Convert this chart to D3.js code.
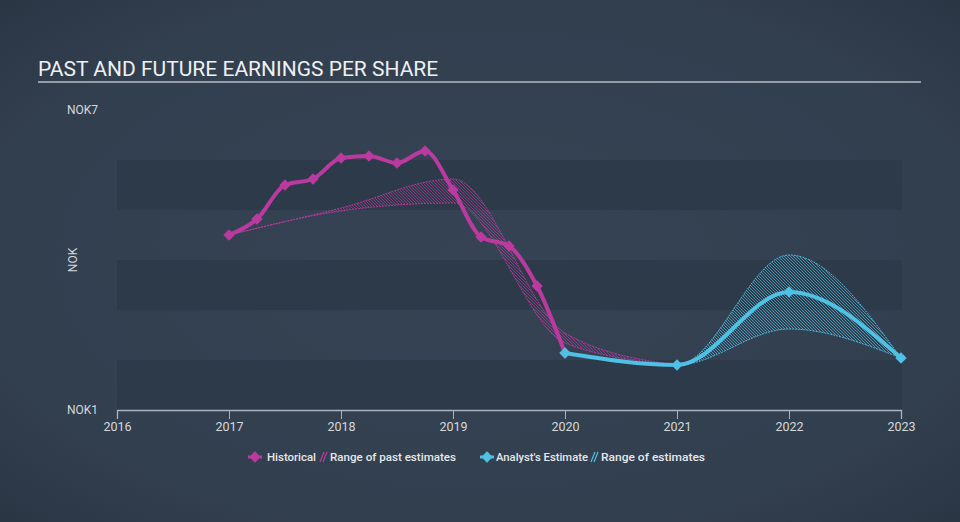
<!DOCTYPE html>
<html>
<head>
<meta charset="utf-8">
<script src="https://cdn.jsdelivr.net/npm/d3@7/dist/d3.min.js"></script>
<style>
  html, body { margin: 0; padding: 0; background: #323f4f; }
  svg { display: block; }
  text { font-family: Roboto, "Noto Sans", sans-serif; }
</style>
</head>
<body>
<svg id="chart" width="960" height="522"></svg>
<script>
// ---- data ----
const histYears = [2017, 2017.25, 2017.5, 2017.75, 2018, 2018.25, 2018.5, 2018.75, 2019, 2019.25, 2019.5, 2019.75, 2020];
const histEPS   = [4.5, 4.82, 5.5, 5.62, 6.04, 6.08, 5.94, 6.18, 5.4, 4.46, 4.28, 3.48, 2.14];

const pastRangeYears = [2017, 2018, 2019, 2020, 2021];
const pastRangeLow   = [4.5, 4.98, 5.14, 2.34, 1.9];
const pastRangeHigh  = [4.5, 5.04, 5.62, 2.54, 1.9];

const estYears = [2020, 2021, 2022, 2023];
const estEPS   = [2.14, 1.9, 3.36, 2.04];

const estRangeYears = [2020, 2021, 2022, 2023];
const estRangeLow   = [2.14, 1.9, 2.62, 2.04];
const estRangeHigh  = [2.14, 1.9, 4.1, 2.04];

const xTicks = [2016, 2017, 2018, 2019, 2020, 2021, 2022, 2023];
const yTickLabels = ["NOK1", "NOK7"];
const yTickValues = [1, 7];
const bandRanges = [[1, 2], [3, 4], [5, 6]];

const title = "PAST AND FUTURE EARNINGS PER SHARE";
const legendItems = ["Historical", "Range of past estimates", "Analyst's Estimate", "Range of estimates"];

// ---- setup ----
const W = 960, H = 522;
const purple = "#bb3a9f", cyan = "#4fc1e4";
const svg = d3.select("#chart");
const defs = svg.append("defs");

const rg = defs.append("radialGradient").attr("id", "bg").attr("cx", "50%").attr("cy", "50%").attr("r", "70%");
rg.append("stop").attr("offset", "0%").attr("stop-color", "#354354");
rg.append("stop").attr("offset", "75%").attr("stop-color", "#323f4f");
rg.append("stop").attr("offset", "100%").attr("stop-color", "#2b3645");
svg.append("rect").attr("width", W).attr("height", H).attr("fill", "url(#bg)");

function hatch(id, color) {
  const p = defs.append("pattern").attr("id", id).attr("patternUnits", "userSpaceOnUse")
    .attr("width", 3).attr("height", 3);
  p.append("path").attr("d", "M0,0 L3,3 M-1,2 L1,4 M2,-1 L4,1")
    .attr("stroke", color).attr("stroke-width", 0.8).attr("opacity", 0.8);
}
hatch("hatchP", purple);
hatch("hatchC", cyan);

const x = d3.scaleLinear().domain([2016, 2023]).range([117, 901]);
const y = d3.scaleLinear().domain([1, 7]).range([410, 110]);

// title
svg.append("text").attr("x", 38).attr("y", 76).attr("fill", "#eef0f2")
  .attr("font-size", 21).text(title);
svg.append("line").attr("x1", 38).attr("x2", 921).attr("y1", 82).attr("y2", 82)
  .attr("stroke", "#b4bcc6").attr("stroke-width", 1.5);

// bands
svg.append("g").selectAll("rect").data(bandRanges).join("rect")
  .attr("x", x(2016)).attr("width", 902 - x(2016))
  .attr("y", d => y(d[1])).attr("height", d => y(d[0]) - y(d[1]))
  .attr("fill", "#2d3a4a");

// y labels
svg.append("g").selectAll("text").data(yTickValues).join("text")
  .attr("x", 67).attr("y", d => y(d) + 4).attr("fill", "#d4d8dd").attr("font-size", 12)
  .text((d, i) => yTickLabels[i]);
svg.append("text").attr("transform", "translate(77,260) rotate(-90)").attr("text-anchor", "middle")
  .attr("fill", "#d4d8dd").attr("font-size", 12).text("NOK");

// x axis
const ax = svg.append("g").attr("transform", `translate(0,${y(1)})`)
  .call(d3.axisBottom(x).tickValues(xTicks).tickFormat(d3.format("d")).tickSize(9).tickPadding(3));
ax.select(".domain").attr("stroke", "#a9b3bf").attr("stroke-width", 1.3);
ax.selectAll(".tick line").attr("stroke", "#a9b3bf");
ax.selectAll(".tick text").attr("fill", "#d4d8dd").attr("font-size", 12.5).attr("font-family", "Roboto, sans-serif");

// ranges
function rangeArea(years, lo, hi, pat, color) {
  const data = years.map((yr, i) => ({ yr, lo: lo[i], hi: hi[i] }));
  const area = d3.area().curve(d3.curveMonotoneX).x(d => x(d.yr)).y0(d => y(d.lo)).y1(d => y(d.hi));
  svg.append("path").datum(data).attr("d", area).attr("fill", `url(#${pat})`);
  const lo1 = d3.line().curve(d3.curveMonotoneX).x(d => x(d.yr)).y(d => y(d.lo));
  const hi1 = d3.line().curve(d3.curveMonotoneX).x(d => x(d.yr)).y(d => y(d.hi));
  [lo1, hi1].forEach(l => svg.append("path").datum(data).attr("d", l).attr("fill", "none")
    .attr("stroke", color).attr("stroke-width", 1).attr("stroke-dasharray", "2,1").attr("opacity", 0.9));
}
rangeArea(pastRangeYears, pastRangeLow, pastRangeHigh, "hatchP", purple);
rangeArea(estRangeYears, estRangeLow, estRangeHigh, "hatchC", cyan);

// lines
const diamond = d3.symbol().type(d3.symbolSquare).size(64);
function series(years, vals, color) {
  const data = years.map((yr, i) => ({ yr, v: vals[i] }));
  const line = d3.line().curve(d3.curveMonotoneX).x(d => x(d.yr)).y(d => y(d.v));
  svg.append("path").datum(data).attr("d", line).attr("fill", "none")
    .attr("stroke", color).attr("stroke-width", 4).attr("stroke-linejoin", "round");
  svg.append("g").selectAll("path").data(data).join("path")
    .attr("d", diamond).attr("fill", color)
    .attr("transform", d => `translate(${x(d.yr)},${y(d.v)}) rotate(45)`);
}
series(histYears, histEPS, purple);
series(estYears, estEPS, cyan);

// legend
const lg = svg.append("g").attr("font-size", 11.7).attr("font-weight", 500).attr("fill", "#e6e8ea");
function legMarker(cx, color) {
  lg.append("line").attr("x1", cx - 7).attr("x2", cx + 7).attr("y1", 457).attr("y2", 457)
    .attr("stroke", color).attr("stroke-width", 3);
  lg.append("path").attr("d", diamond).attr("fill", color).attr("transform", `translate(${cx},457) rotate(45)`);
}
function legHatch(x0, color) {
  lg.append("path").attr("d", `M${x0},${462} L${x0 + 4},${452} M${x0 + 3},${462} L${x0 + 7},${452}`)
    .attr("stroke", color).attr("stroke-width", 1.2);
}
function legText(x0, x1, s) {
  lg.append("text").attr("x", x0).attr("y", 461).attr("textLength", x1 - x0)
    .attr("lengthAdjust", "spacingAndGlyphs").text(s);
}
legMarker(255, purple);
legText(267, 316, legendItems[0]);
legHatch(320, purple);
legText(330, 456, legendItems[1]);
legMarker(487, cyan);
legText(496, 588, legendItems[2]);
legHatch(591, cyan);
legText(601, 705, legendItems[3]);
</script>
</body>
</html>
